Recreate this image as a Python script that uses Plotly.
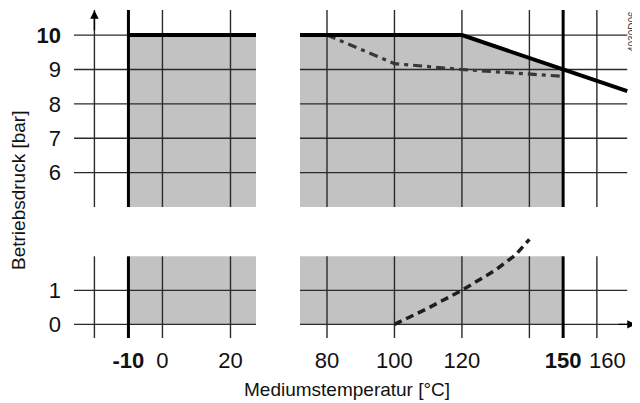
import plotly.graph_objects as go

# ---------------- data ----------------
# pressure ticks (bar)
y_ticks_upper = [6, 7, 8, 9, 10]
y_ticktext_upper = ["6", "7", "8", "9", "<b>10</b>"]
y_ticks_lower = [0, 1]
y_ticktext_lower = ["0", "1"]

# temperature grid / labels (°C)
x_grid_left = [-20, 0, 20]
x_grid_right = [80, 100, 120, 140, 160]
x_bold_left = [-10]
x_bold_right = [150]
x_labels_left = [-10, 0, 20]
x_ticktext_left = ["<b>-10</b>", "0", "20"]
x_labels_right = [80, 100, 120, 150]
x_ticktext_right = ["80", "100", "120", "<b>150</b>"]
x_label_extra = 160          # printed slightly right of its grid line

# axis ranges of the broken axes
x_range_left = [-26, 27.5]
x_range_right = [72, 171.6]
y_range_upper = [5, 10.73]
y_range_lower = [-0.4, 2.6]

# permissible operating area (grey)
area_left_temp = [-10, 27.5]
area_right_temp = [72, 120, 150]
area_right_press = [10, 10, 9]
area_upper_min = 5
area_lower_press = [0, 2]

# solid limit line
limit_left_temp = [-10, 27.5]
limit_left_press = [10, 10]
limit_right_temp = [72, 120, 150, 169]
limit_right_press = [10, 10, 9, 8.37]

# dash-dot curve
dd_temp = [80, 100, 120, 150]
dd_press = [10, 9.17, 9.0, 8.8]

# dashed curve (lower part)
low_temp = [100, 110, 120, 130, 136, 140]
low_press = [0, 0.48, 1.0, 1.6, 2.05, 2.5]

# ---------------- figure ----------------
# the page body has an 8px margin: the figure starts at (8, 8)
OX, OY = 8, 8
W, H = 640 - OX, 403 - OY
FONT = "Liberation Sans, Arial, sans-serif"
GRID = "#2a2a2a"
GREY = "#c2c2c2"

fig = go.Figure()


def add(x, y, xa, ya, **kw):
    fig.add_trace(go.Scatter(x=x, y=y, xaxis=xa, yaxis=ya, mode="lines",
                             hoverinfo="skip", showlegend=False, **kw))


# grey areas
add([area_left_temp[0], area_left_temp[1], area_left_temp[1], area_left_temp[0]],
    [area_upper_min, area_upper_min, limit_left_press[1], limit_left_press[0]],
    "x", "y", fill="toself", fillcolor=GREY, line=dict(width=0))
add(area_right_temp + [area_right_temp[-1], area_right_temp[0]],
    area_right_press + [area_upper_min, area_upper_min],
    "x2", "y", fill="toself", fillcolor=GREY, line=dict(width=0))
add([area_left_temp[0], area_left_temp[1], area_left_temp[1], area_left_temp[0]],
    [area_lower_press[0], area_lower_press[0], area_lower_press[1], area_lower_press[1]],
    "x", "y2", fill="toself", fillcolor=GREY, line=dict(width=0))
add([area_right_temp[0], area_right_temp[-1], area_right_temp[-1], area_right_temp[0]],
    [area_lower_press[0], area_lower_press[0], area_lower_press[1], area_lower_press[1]],
    "x2", "y2", fill="toself", fillcolor=GREY, line=dict(width=0))


def hlines(vals, xr, xa, ya, width=1.4):
    xs, ys = [], []
    for v in vals:
        xs += [xr[0], xr[1], None]
        ys += [v, v, None]
    add(xs, ys, xa, ya, line=dict(color=GRID, width=width))


def vlines(vals, yr, xa, ya, width=1.4, color=GRID):
    xs, ys = [], []
    for v in vals:
        xs += [v, v, None]
        ys += [yr[0], yr[1], None]
    add(xs, ys, xa, ya, line=dict(color=color, width=width))


# horizontal grid
hlines(y_ticks_upper, x_range_left, "x", "y")
hlines(y_ticks_upper, [x_range_right[0], 169], "x2", "y")
hlines(y_ticks_lower, x_range_left, "x", "y2")
hlines(y_ticks_lower, [x_range_right[0], 169], "x2", "y2")

# vertical grid
vlines(x_grid_left, y_range_upper, "x", "y")
vlines(x_grid_right, y_range_upper, "x2", "y")
vlines(x_grid_left, [y_range_lower[0], area_lower_press[1]], "x", "y2")
vlines(x_grid_right, [y_range_lower[0], area_lower_press[1]], "x2", "y2")
vlines(x_bold_left, y_range_upper, "x", "y", width=3, color="#000")
vlines(x_bold_right, y_range_upper, "x2", "y", width=3, color="#000")
vlines(x_bold_left, [y_range_lower[0], area_lower_press[1]], "x", "y2", width=3, color="#000")
vlines(x_bold_right, [y_range_lower[0], area_lower_press[1]], "x2", "y2", width=3, color="#000")

# curves
add(dd_temp, dd_press, "x2", "y", line=dict(color="#383838", width=3.2, dash="9px,5px,4px,5px"))
add(low_temp, low_press, "x2", "y2", line=dict(color="#1e1e1e", width=3.5, dash="8px,5px"))
add(limit_left_temp, limit_left_press, "x", "y", line=dict(color="#000", width=4))
add(limit_right_temp, limit_right_press, "x2", "y", line=dict(color="#000", width=4))


# ---------------- layout ----------------
def px_x(p):
    return (p - OX) / W


def px_y(p):
    return 1 - (p - OY) / H


tickfont = dict(family=FONT, size=22, color="#111")
common = dict(showgrid=False, zeroline=False, showline=False, ticks="",
              fixedrange=True, automargin=False, tickfont=tickfont)

fig.update_layout(
    width=W, height=H,
    margin=dict(l=0, r=0, t=0, b=0),
    paper_bgcolor="white", plot_bgcolor="white",
    font=dict(family=FONT, color="#111"),
    xaxis=dict(domain=[px_x(74), px_x(256)], range=x_range_left, anchor="y2",
               tickmode="array", tickvals=x_labels_left, ticktext=x_ticktext_left,
               tickangle=0, ticklabelstandoff=7, **common),
    xaxis2=dict(domain=[px_x(300), px_x(636)], range=x_range_right, anchor="y2",
                tickmode="array", tickvals=x_labels_right, ticktext=x_ticktext_right,
                tickangle=0, ticklabelstandoff=7, **common),
    yaxis=dict(domain=[px_y(207), px_y(10)], range=y_range_upper, anchor="x",
               tickmode="array", tickvals=y_ticks_upper, ticktext=y_ticktext_upper,
               ticklabelstandoff=12, **common),
    yaxis2=dict(domain=[px_y(338), px_y(235.9)], range=y_range_lower, anchor="x",
                tickmode="array", tickvals=y_ticks_lower, ticktext=y_ticktext_lower,
                ticklabelstandoff=12, **common),
    annotations=[
        # y-axis arrow
        dict(xref="x", yref="y", x=-20, y=10.72, axref="x", ayref="y", ax=-20, ay=10.1,
             showarrow=True, arrowhead=2, arrowsize=1.2, arrowwidth=1.4, arrowcolor="#000", text=""),
        # x-axis arrow
        dict(xref="x2", yref="y2", x=171.5, y=0, axref="x2", ayref="y2", ax=166, ay=0,
             showarrow=True, arrowhead=2, arrowsize=1.2, arrowwidth=1.4, arrowcolor="#000", text=""),
        # 160 label, set off to the right of its grid line
        dict(xref="x2", yref="paper", x=x_label_extra, y=px_y(360.5), xshift=11,
             text=str(x_label_extra), showarrow=False, font=tickfont,
             xanchor="center", yanchor="middle"),
        dict(xref="paper", yref="paper", x=px_x(347), y=px_y(389), text="Mediumstemperatur [°C]",
             showarrow=False, font=dict(family=FONT, size=19, color="#111"),
             xanchor="center", yanchor="middle"),
        dict(xref="paper", yref="paper", x=px_x(18), y=px_y(191), text="Betriebsdruck [bar]",
             textangle=-90, showarrow=False, font=dict(family=FONT, size=19, color="#111"),
             xanchor="center", yanchor="middle"),
        dict(xref="paper", yref="paper", x=px_x(633), y=px_y(32), text="4030D06",
             textangle=-90, showarrow=False, font=dict(family=FONT, size=10, color="#444"),
             xanchor="center", yanchor="middle"),
    ],
)

fig.write_html("out.html")
